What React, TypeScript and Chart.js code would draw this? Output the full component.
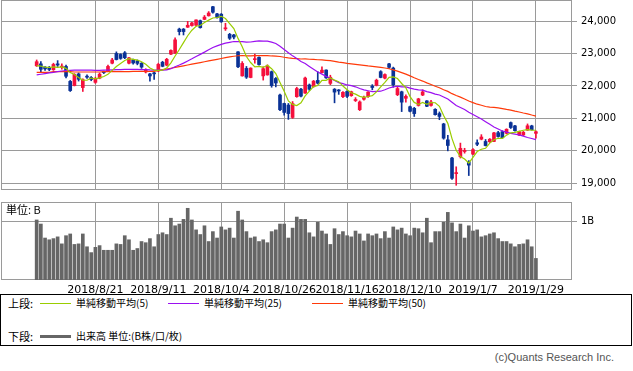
import React, { useEffect, useRef } from "react";
import { Chart, registerables } from "chart.js";

Chart.register(...registerables);

const dates = [
  "2018/8/1","2018/8/2","2018/8/3","2018/8/6","2018/8/7","2018/8/8","2018/8/9","2018/8/10","2018/8/13","2018/8/14",
  "2018/8/15","2018/8/16","2018/8/17","2018/8/20","2018/8/21","2018/8/22","2018/8/23","2018/8/24","2018/8/27","2018/8/28",
  "2018/8/29","2018/8/30","2018/8/31","2018/9/3","2018/9/4","2018/9/5","2018/9/6","2018/9/7","2018/9/10","2018/9/11",
  "2018/9/12","2018/9/13","2018/9/14","2018/9/18","2018/9/19","2018/9/20","2018/9/21","2018/9/25","2018/9/26","2018/9/27",
  "2018/9/28","2018/10/1","2018/10/2","2018/10/3","2018/10/4","2018/10/5","2018/10/9","2018/10/10","2018/10/11","2018/10/12",
  "2018/10/15","2018/10/16","2018/10/17","2018/10/18","2018/10/19","2018/10/22","2018/10/23","2018/10/24","2018/10/25","2018/10/26",
  "2018/10/29","2018/10/30","2018/10/31","2018/11/1","2018/11/2","2018/11/5","2018/11/6","2018/11/7","2018/11/8","2018/11/9",
  "2018/11/12","2018/11/13","2018/11/14","2018/11/15","2018/11/16","2018/11/19","2018/11/20","2018/11/21","2018/11/22","2018/11/26",
  "2018/11/27","2018/11/28","2018/11/29","2018/11/30","2018/12/3","2018/12/4","2018/12/5","2018/12/6","2018/12/7","2018/12/10",
  "2018/12/11","2018/12/12","2018/12/13","2018/12/14","2018/12/17","2018/12/18","2018/12/19","2018/12/20","2018/12/21","2018/12/25",
  "2018/12/26","2018/12/27","2018/12/28","2019/1/4","2019/1/7","2019/1/8","2019/1/9","2019/1/10","2019/1/11","2019/1/15",
  "2019/1/16","2019/1/17","2019/1/18","2019/1/21","2019/1/22","2019/1/23","2019/1/24","2019/1/25","2019/1/28","2019/1/29",
];

const open = [
  22620,22680,22580,22560,22500,22680,22580,22600,22140,22010,
  22370,21950,22300,22260,22110,22240,22440,22460,22700,23000,
  22970,23020,22700,22800,22770,22700,22430,22370,22400,22460,
  22730,22640,22980,23010,23750,23750,23810,23860,23870,24010,
  24050,24160,24440,24220,24210,23760,23590,23570,23050,22310,
  22540,22260,22810,22880,22310,22340,22440,22230,21720,21460,
  21410,21030,21670,21900,21780,22030,21980,22170,22410,22490,
  22080,21900,21860,21670,21830,21700,21550,21270,21590,21670,
  21990,22020,22440,22240,22680,22550,21730,21820,21620,21360,
  21310,21400,21720,21540,21400,21280,21150,20830,20340,19780,
  19300,19820,19980,19660,19900,20250,20360,20290,20280,20290,
  20560,20590,20540,20870,20770,20490,20490,20640,20770,20540,
];

const high = [
  22800,22750,22600,22600,22700,22780,22680,22640,22170,22380,
  22400,22220,22340,22290,22270,22400,22460,22640,22850,23050,
  22990,23060,22880,22830,22800,22720,22530,22390,22420,22700,
  22760,22850,23110,23480,23780,23770,23990,23960,24040,24030,
  24170,24290,24450,24240,24230,23930,23620,23590,23060,22750,
  22600,22560,22980,22900,22590,22650,22460,22260,21750,21470,
  21460,21520,21960,21930,22270,22060,22170,22440,22590,22500,
  22330,21920,21890,21830,21860,21840,21640,21540,21690,21830,
  22040,22210,22470,22370,22700,22580,21970,21840,21730,21380,
  21340,21620,21880,21550,21560,21300,21200,20850,20480,19800,
  19510,20240,20080,19700,20070,20340,20500,20350,20380,20570,
  20600,20620,20680,20890,20790,20610,20600,20830,20790,20620,
];

const low = [
  22600,22420,22480,22470,22480,22600,22520,22250,21830,22000,
  22150,21830,22230,22160,22080,22220,22380,22440,22680,22800,
  22820,22840,22680,22670,22650,22540,22400,22150,22200,22440,
  22590,22620,22960,23000,23570,23570,23800,23840,23850,23780,
  24040,24150,24240,24090,23960,23710,23430,23450,22560,22300,
  22230,22250,22700,22640,22180,22330,21960,21970,21240,21100,
  20970,21000,21650,21660,21770,21860,21960,22060,22400,22230,
  22040,21480,21740,21640,21640,21680,21520,21240,21560,21650,
  21880,22000,22250,22220,22540,21960,21700,21210,21500,21200,
  21060,21380,21700,21360,21380,21100,20960,20360,20000,19120,
  18940,19780,19930,19240,19880,20160,20340,20150,20260,20280,
  20420,20400,20520,20690,20610,20470,20470,20630,20640,20390,
];

const close = [
  22746,22512,22525,22507,22662,22644,22598,22298,21857,22356,
  22204,22192,22270,22199,22219,22362,22410,22601,22799,22813,
  22848,22869,22865,22707,22696,22580,22487,22307,22373,22664,
  22604,22821,23094,23420,23672,23674,23869,23940,24033,23796,
  24120,24245,24270,24110,23975,23783,23469,23506,22590,22694,
  22271,22549,22841,22658,22532,22614,22010,22091,21268,21184,
  21149,21457,21920,21687,22243,21898,22147,22085,22486,22250,
  22269,21810,21846,21803,21680,21821,21583,21507,21646,21812,
  21952,22177,22262,22351,22574,22036,21919,21501,21678,21219,
  21148,21602,21816,21374,21506,21115,21061,20392,20166,19155,
  19327,20077,20014,19561,20038,20204,20427,20163,20359,20555,
  20442,20402,20666,20719,20622,20593,20574,20773,20649,20590,
];

// volume in billions of shares
const volume = [
  1.03,0.96,0.72,0.69,0.71,0.74,0.62,0.76,0.79,0.61,
  0.62,0.79,0.57,0.47,0.56,0.59,0.51,0.51,0.51,0.62,
  0.61,0.76,0.69,0.51,0.54,0.66,0.64,0.71,0.57,0.78,
  0.81,0.78,1.06,0.93,0.96,1.04,1.23,1.03,0.86,0.78,
  0.93,0.66,0.83,0.72,0.91,0.86,0.89,0.72,1.18,1.03,
  0.83,0.72,0.74,0.66,0.69,0.64,0.83,0.86,0.96,0.96,
  0.72,0.89,1.08,1.04,1.04,0.81,0.74,0.99,0.84,0.79,
  0.61,0.88,0.78,0.83,0.76,0.74,0.84,0.79,0.67,0.79,
  0.76,0.79,0.71,0.83,0.72,0.91,0.86,0.89,0.79,0.76,
  0.89,0.88,0.81,1.06,0.64,0.83,0.83,0.99,1.16,0.98,
  0.83,0.96,0.72,0.93,0.84,0.86,0.74,0.76,0.79,0.81,
  0.71,0.66,0.66,0.62,0.57,0.61,0.62,0.69,0.57,0.37,
];

const ma5 = [
  22628,22613,22576,22569,22590,22570,22587,22542,22412,22351,
  22263,22181,22176,22244,22217,22248,22292,22358,22478,22597,
  22694,22786,22839,22820,22797,22743,22667,22555,22489,22482,
  22487,22554,22711,22921,23122,23336,23546,23715,23838,23862,
  23952,24027,24093,24108,24144,24077,23921,23769,23465,23208,
  22906,22722,22589,22603,22570,22639,22531,22381,22103,21833,
  21540,21430,21396,21479,21691,21841,21979,22012,22172,22173,
  22247,22180,22132,21996,21882,21792,21747,21679,21647,21674,
  21700,21819,21970,22111,22263,22280,22228,22076,21942,21671,
  21493,21430,21493,21432,21489,21483,21374,21090,20848,20378,
  20020,19823,19748,19627,19803,19979,20049,20079,20238,20342,
  20389,20384,20485,20557,20570,20600,20635,20656,20642,20636,
];

const ma25 = [
  22340,22360,22380,22400,22420,22440,22460,22475,22480,22485,
  22490,22490,22490,22485,22480,22480,22485,22490,22495,22500,
  22505,22510,22510,22510,22510,22504,22503,22494,22489,22489,
  22487,22496,22528,22590,22643,22702,22769,22836,22909,22972,
  23042,23116,23183,23235,23282,23319,23343,23369,23364,23364,
  23351,23354,23375,23387,23381,23382,23349,23309,23223,23124,
  23023,22926,22845,22752,22689,22601,22517,22429,22364,22295,
  22235,22168,22102,22070,22030,22012,21973,21920,21879,21851,
  21824,21831,21838,21881,21937,21972,21991,21974,21973,21932,
  21902,21881,21870,21825,21796,21750,21720,21661,21596,21495,
  21395,21335,21275,21192,21121,21051,20981,20897,20817,20737,
  20673,20612,20579,20540,20516,20494,20453,20411,20382,20346,
];

const ma50 = [
  22420,22420,22420,22420,22440,22440,22440,22440,22440,22430,
  22430,22430,22430,22430,22430,22430,22440,22440,22440,22440,
  22440,22440,22440,22450,22450,22450,22450,22450,22450,22480,
  22500,22520,22545,22570,22595,22620,22645,22670,22695,22720,
  22745,22770,22795,22820,22845,22870,22895,22915,22930,22937,
  22928,22928,22935,22938,22935,22934,22923,22919,22907,22883,
  22862,22848,22841,22830,22831,22822,22816,22806,22800,22788,
  22777,22756,22735,22717,22697,22682,22664,22648,22633,22616,
  22603,22590,22573,22552,22530,22497,22458,22410,22363,22311,
  22252,22199,22150,22095,22045,21992,21944,21882,21833,21762,
  21704,21654,21598,21536,21486,21438,21406,21367,21349,21337,
  21322,21301,21276,21257,21224,21198,21167,21141,21104,21071,
];

const priceTicks = [19000, 20000, 21000, 22000, 23000, 24000];
const volumeTicks = [1];
const dateTicks = ["2018/8/21","2018/9/11","2018/10/4","2018/10/26","2018/11/16","2018/12/10","2019/1/7","2019/1/29"];

const UP = "#f5103c";
const DOWN = "#0a3296";
const GRID = "#9a9a9a";
const X_MIN = -8.5;
const X_MAX = 127.6;

const boxPlugin = {
  id: "box",
  beforeDatasetsDraw(chart: any) {
    const { ctx, chartArea } = chart;
    const { left, top, right, bottom } = chartArea;
    ctx.save();
    ctx.strokeStyle = GRID;
    ctx.lineWidth = 1;
    ctx.strokeRect(left + 0.5, top + 0.5, right - left - 1, bottom - top - 1);
    ctx.restore();
  },
};

function xScale(showLabels: boolean) {
  const tickIdx = dateTicks.map((d) => dates.indexOf(d));
  return {
    type: "linear",
    min: X_MIN,
    max: X_MAX,
    offset: false,
    grid: { color: GRID, lineWidth: 1, offset: false, drawTicks: false },
    border: { display: false },
    afterBuildTicks: (s: any) => {
      s.ticks = tickIdx.map((v) => ({ value: v }));
    },
    ticks: {
      display: showLabels,
      autoSkip: false,
      maxRotation: 0,
      minRotation: 0,
      padding: 4,
      color: "#000",
      font: { family: "DejaVu Sans", size: 11 },
      callback: (v: any) => dates[Math.round(Number(v))] ?? "",
    },
    afterFit: (s: any) => {
      s.height = showLabels ? 15 : 0;
      s.paddingLeft = 0;
      s.paddingRight = 0;
    },
  };
}

function yScale(min: number, max: number, ticks: number[], fmt: (v: number) => string) {
  return {
    type: "linear",
    position: "right",
    min,
    max,
    beginAtZero: false,
    grid: { color: GRID, lineWidth: 1, drawTicks: true, tickLength: 5 },
    border: { display: false },
    afterBuildTicks: (s: any) => {
      s.ticks = ticks.map((v) => ({ value: v }));
    },
    ticks: {
      padding: 4,
      color: "#000",
      font: { family: "DejaVu Sans", size: 10 },
      callback: (v: any) => fmt(Number(v)),
    },
    afterFit: (s: any) => {
      s.width = 61;
      s.paddingTop = 0;
      s.paddingBottom = 0;
    },
  };
}

export default function App() {
  const priceRef = useRef<HTMLCanvasElement>(null);
  const volRef = useRef<HTMLCanvasElement>(null);

  useEffect(() => {
    const idx = dates.map((_, i) => i);
    const colors = idx.map((i) => (close[i] >= open[i] ? UP : DOWN));

    const line = (vals: number[], color: string, label: string) => ({
      type: "line",
      label,
      data: vals.map((v, i) => ({ x: i, y: v })),
      borderColor: color,
      borderWidth: 1.2,
      pointRadius: 0,
      tension: 0,
      fill: false,
      order: 0,
    });

    const price = new Chart(priceRef.current as HTMLCanvasElement, {
      type: "bar",
      data: {
        datasets: [
          line(ma5, "#9acd00", "MA5"),
          line(ma25, "#9b10f0", "MA25"),
          line(ma50, "#ff3a0a", "MA50"),
          {
            type: "bar",
            label: "body",
            data: idx.map((i) => ({ x: i, y: [open[i], close[i]] })),
            backgroundColor: colors,
            borderWidth: 0,
            barThickness: 3,
            minBarLength: 1,
            grouped: false,
            order: 1,
          },
          {
            type: "bar",
            label: "wick",
            data: idx.map((i) => ({ x: i, y: [low[i], high[i]] })),
            backgroundColor: colors,
            borderWidth: 0,
            barThickness: 1,
            grouped: false,
            order: 2,
          },
        ] as any,
      },
      options: {
        responsive: false,
        animation: false,
        devicePixelRatio: 1,
        events: [],
        layout: { padding: { left: 1, right: 0, top: 0, bottom: 1 } },
        plugins: { legend: { display: false }, tooltip: { enabled: false } },
        scales: {
          x: xScale(false) as any,
          y: yScale(18795, 24647, priceTicks, (v) => v.toLocaleString("en-US")) as any,
        },
      },
      plugins: [boxPlugin],
    });

    const vol = new Chart(volRef.current as HTMLCanvasElement, {
      type: "bar",
      data: {
        datasets: [
          {
            label: "出来高",
            data: idx.map((i) => ({ x: i, y: volume[i] })),
            backgroundColor: "#666666",
            borderWidth: 0,
            barThickness: 3,
            grouped: false,
          },
        ] as any,
      },
      options: {
        responsive: false,
        animation: false,
        devicePixelRatio: 1,
        events: [],
        layout: { padding: { left: 1, right: 0, top: 7, bottom: 0 } },
        plugins: { legend: { display: false }, tooltip: { enabled: false } },
        scales: {
          x: xScale(true) as any,
          y: yScale(0, 1.338, volumeTicks, (v) => v + "B") as any,
        },
      },
      plugins: [boxPlugin],
    });

    return () => {
      price.destroy();
      vol.destroy();
    };
  }, []);

  const jp = '"Noto Sans CJK JP", "Noto Sans", sans-serif';
  const txt: React.CSSProperties = {
    position: "absolute",
    fontFamily: jp,
    fontSize: 10,
    lineHeight: "14px",
    color: "#000",
    whiteSpace: "nowrap",
  };
  const swatch = (left: number, top: number, h: number, color: string): React.CSSProperties => ({
    position: "absolute",
    left,
    top,
    width: 31,
    height: h,
    background: color,
  });

  return (
    <div style={{ position: "absolute", left: 0, top: 0, width: 633, height: 371, background: "#fff", overflow: "hidden" }}>
      <canvas ref={priceRef} width={633} height={191} style={{ position: "absolute", left: 0, top: 0 }} />
      <canvas ref={volRef} width={633} height={100} style={{ position: "absolute", left: 0, top: 195 }} />
      <div style={{ ...txt, left: 6, top: 202, fontSize: 11 }}>単位: B</div>
      <div
        style={{
          position: "absolute",
          left: 0,
          top: 294,
          width: 630,
          height: 50,
          border: "1px solid #000",
          background: "#fff",
        }}
      >
        <div style={{ ...txt, left: 7, top: 1, fontSize: 11 }}>上段:</div>
        <div style={swatch(39, 8, 1, "#9acd00")} />
        <div style={{ ...txt, left: 75, top: 1 }}>単純移動平均(5)</div>
        <div style={swatch(167, 8, 1, "#9b10f0")} />
        <div style={{ ...txt, left: 203, top: 1 }}>単純移動平均(25)</div>
        <div style={swatch(311, 8, 1, "#ff3a0a")} />
        <div style={{ ...txt, left: 347, top: 1 }}>単純移動平均(50)</div>
        <div style={{ ...txt, left: 7, top: 34, fontSize: 11 }}>下段:</div>
        <div style={swatch(39, 40, 3, "#666666")} />
        <div style={{ ...txt, left: 75, top: 34 }}>出来高 単位:(B株/口/枚)</div>
      </div>
      <div
        style={{
          position: "absolute",
          right: 19,
          top: 350,
          fontFamily: '"Liberation Sans", Arial, sans-serif',
          fontSize: 11,
          lineHeight: "14px",
          color: "#555",
          whiteSpace: "nowrap",
        }}
      >
        (c)Quants Research Inc.
      </div>
    </div>
  );
}
